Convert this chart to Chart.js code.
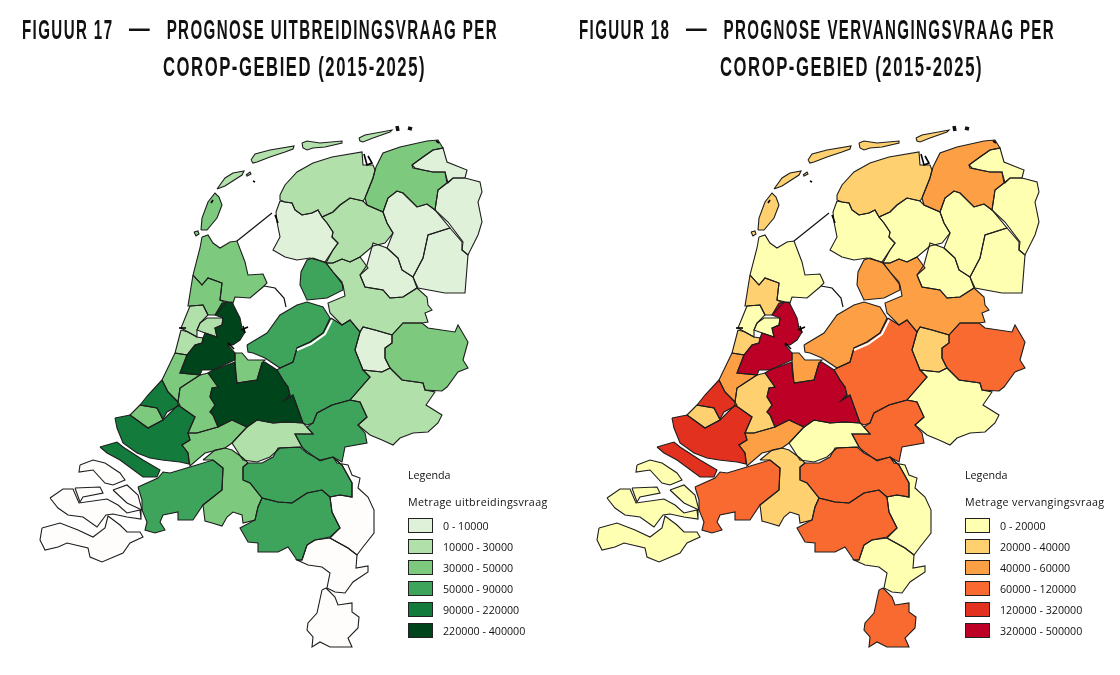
<!DOCTYPE html>
<html lang="nl">
<head>
<meta charset="utf-8">
<title>Prognose per COROP-gebied</title>
<script src="https://cdn.jsdelivr.net/npm/chart.js@4"></script>
<style>
    html, body { margin: 0; padding: 0; background: #fff; width: 1120px; height: 675px; overflow: hidden; }
    canvas { position: absolute; top: 0; }
    .title { position: absolute; font: 700 27px "Liberation Sans", sans-serif; color: #111; letter-spacing: 2.5px; white-space: pre; line-height: 30px; transform-origin: left top; }
    .title span { font-size: 37px; font-weight: 400; word-spacing: 15px; line-height: 20px; }
    .legendText { position: absolute; font: 10.7px "Open Sans", sans-serif; color: #111; white-space: pre; line-height: 14px; }
    .legendHead { letter-spacing: 0.34px; }
    .swatch { position: absolute; width: 23px; height: 13px; border: 1px solid #222; }
</style>
</head>
<body>
<canvas id="map17"></canvas>
<canvas id="map18"></canvas>

<script>
/* ------------------------------------------------------------
   DATA
------------------------------------------------------------ */
const titles17 = ["FIGUUR 17 — PROGNOSE UITBREIDINGSVRAAG PER", "COROP-GEBIED (2015-2025)"];
const titles18 = ["FIGUUR 18 — PROGNOSE VERVANGINGSVRAAG PER", "COROP-GEBIED (2015-2025)"];

const legendTitle17 = "Metrage uitbreidingsvraag";
const legendTitle18 = "Metrage vervangingsvraag";
const legendLabels17 = ["0 - 10000", "10000 - 30000", "30000 - 50000", "50000 - 90000", "90000 - 220000", "220000 - 400000"];
const legendLabels18 = ["0 - 20000", "20000 - 40000", "40000 - 60000", "60000 - 120000", "120000 - 320000", "320000 - 500000"];

const greens = ["#dff2d9", "#b1e0aa", "#7dc97e", "#3ea45c", "#137c3c", "#00441b"];
const reds = ["#ffffb2", "#fed06f", "#fda045", "#f96a30", "#e3311f", "#bd0026"];
const noData = "#fffdfc";

// map coordinates of each COROP area (x east, y south)
const texel = [[201,230],[202,218],[208,202],[215,193],[219,197],[222,205],[217,218],[207,230]];
const texelSmall = [[194,232],[198,231],[199,234],[196,236]];
const vlieland = [[217,189],[225,178],[233,173],[244,171],[242,175],[225,186]];
const vlielandSmall = [[246,175],[250,172],[251,174],[247,176]];
const terschelling = [[251,160],[255,154],[270,150],[294,146],[293,149],[285,152],[270,157],[257,162],[253,163]];
const ameland = [[302,143],[307,141],[320,143],[342,141],[342,143],[325,147],[313,148],[307,150],[303,148]];
const schiermonnikoog = [[359,138],[365,135],[392,130],[390,132],[373,138],[363,142],[360,141]];
const noordFriesland = [[280,195],[285,185],[297,172],[313,163],[332,157],[362,152],[363,165],[373,165],[375,170],[373,178],[365,198],[363,201],[350,198],[340,205],[333,212],[322,217],[318,210],[312,213],[302,215],[295,210],[292,203],[285,202],[280,200]];
const zuidwestFriesland = [[280,201],[285,202],[292,203],[295,210],[302,215],[312,213],[318,210],[322,217],[327,223],[333,232],[332,237],[338,243],[333,250],[325,262],[310,258],[297,260],[285,257],[273,250],[280,237],[277,222],[276,212]];
const zuidoostFriesland = [[322,217],[333,212],[340,205],[350,198],[363,201],[367,205],[383,212],[387,223],[393,233],[385,243],[373,246],[360,257],[350,262],[342,259],[333,263],[326,263],[333,250],[338,243],[332,237],[333,232],[327,223]];
const overigGroningen = [[365,198],[373,178],[376,167],[383,153],[400,147],[427,141],[438,140],[443,148],[433,150],[423,157],[412,165],[415,168],[423,170],[433,172],[445,172],[447,183],[438,190],[435,210],[427,204],[417,207],[403,193],[397,191],[388,198],[383,212],[367,205]];
const delfzijl = [[412,165],[423,157],[433,150],[443,148],[447,162],[467,170],[465,178],[453,178],[448,183],[445,172],[433,172],[423,170],[413,168]];
const oostGroningen = [[447,183],[453,178],[465,178],[480,182],[482,192],[478,202],[482,222],[478,235],[468,255],[462,250],[463,242],[448,222],[435,210],[438,190]];
const noordDrenthe = [[383,212],[388,198],[397,191],[403,193],[417,207],[427,204],[435,210],[450,228],[428,235],[423,258],[413,277],[402,270],[398,258],[387,248],[393,233],[387,223]];
const zuidoostDrenthe = [[450,228],[462,242],[462,250],[468,255],[465,293],[445,293],[418,288],[413,277],[423,258],[428,235]];
const zuidwestDrenthe = [[360,275],[367,265],[373,243],[387,248],[398,258],[402,270],[413,277],[417,288],[403,297],[390,298],[383,290],[365,287]];
const noordOverijssel = [[326,263],[333,263],[342,259],[350,262],[360,257],[368,268],[360,275],[365,287],[383,290],[390,298],[403,297],[417,288],[427,297],[428,305],[432,310],[425,313],[428,322],[422,323],[403,323],[392,335],[375,330],[363,327],[360,332],[350,320],[342,325],[330,313],[328,303],[345,296],[343,285],[333,272]];
const zuidwestOverijssel = [[363,327],[375,330],[392,335],[392,343],[385,348],[385,358],[390,368],[382,372],[363,370],[355,350],[360,332]];
const twente = [[392,335],[403,323],[422,323],[428,328],[455,332],[458,325],[468,342],[463,360],[468,368],[458,372],[447,387],[442,391],[425,390],[423,383],[402,380],[390,368],[385,358],[385,348],[392,343]];
const achterhoek = [[350,400],[370,377],[363,370],[382,372],[390,368],[402,380],[423,383],[425,390],[435,392],[426,405],[442,415],[438,423],[428,432],[413,433],[400,438],[393,445],[382,440],[370,435],[358,425],[367,417],[360,402]];
const veluwe = [[331,318],[342,325],[350,320],[360,332],[355,350],[363,370],[370,377],[350,400],[332,405],[317,413],[313,423],[307,425],[303,423],[293,395],[285,400],[290,395],[288,387],[283,380],[277,370],[280,368],[293,362],[297,348],[310,342],[323,333]];
const arnhemNijmegen = [[317,413],[332,405],[350,400],[360,402],[367,417],[358,425],[365,433],[367,443],[345,447],[342,462],[333,457],[320,461],[305,450],[302,447],[295,434],[313,434],[307,427],[313,423]];
const noordoostpolder = [[313,258],[326,263],[333,272],[342,282],[343,290],[327,298],[307,300],[300,285],[301,272],[307,260]];
const flevoland = [[247,345],[267,333],[280,315],[297,305],[307,302],[323,307],[330,318],[323,333],[310,342],[297,348],[293,362],[280,368],[265,358],[253,353],[248,352]];
const kopNoordHolland = [[202,237],[208,235],[213,243],[220,248],[230,242],[237,241],[245,262],[248,275],[263,274],[267,283],[263,287],[250,298],[235,297],[233,303],[220,300],[222,283],[208,278],[202,285],[193,275],[200,248]];
const alkmaar = [[193,275],[202,285],[208,278],[222,283],[220,300],[226,303],[215,315],[208,315],[203,305],[190,306],[188,306]];
const ijmond = [[190,306],[203,305],[208,315],[200,323],[197,330],[197,337],[188,332],[181,328]];
const zaanstreek = [[200,323],[207,318],[223,318],[222,325],[215,328],[217,337],[205,333],[197,330]];
const haarlem = [[181,330],[188,332],[197,337],[203,338],[202,343],[195,345],[187,355],[175,353]];
const grootAmsterdam = [[222,303],[232,302],[240,318],[242,328],[245,332],[240,340],[233,345],[228,345],[235,353],[235,360],[213,370],[202,370],[200,375],[180,373],[187,355],[195,345],[202,343],[203,338],[205,333],[217,337],[215,328],[222,325],[223,318],[215,315]];
const gooi = [[235,353],[242,353],[248,360],[265,360],[262,363],[257,380],[237,383],[235,370],[235,362]];
const utrecht = [[235,362],[237,383],[257,380],[262,363],[265,362],[277,370],[283,380],[288,387],[290,395],[285,400],[293,395],[303,423],[287,422],[273,423],[257,420],[247,427],[232,420],[218,427],[213,415],[210,412],[215,405],[210,397],[212,388],[218,387],[208,373],[213,370]];
const leiden = [[175,353],[187,355],[180,373],[200,375],[180,388],[178,402],[168,392],[162,380]];
const denHaag = [[162,380],[168,392],[178,402],[180,405],[167,412],[163,419],[157,408],[140,405],[148,395]];
const delftWestland = [[140,405],[157,408],[162,418],[163,420],[148,428],[130,415]];
const oostZuidHolland = [[200,375],[208,373],[218,387],[212,388],[210,397],[215,405],[210,412],[213,415],[218,427],[197,433],[188,433],[195,417],[178,405],[178,402],[180,388]];
const grootRijnmond = [[115,418],[130,415],[148,428],[163,420],[178,405],[195,417],[188,433],[190,440],[182,445],[188,453],[189,464],[180,462],[162,460],[150,458],[137,453],[123,443],[117,428]];
const goeree = [[100,447],[117,442],[123,447],[143,460],[160,470],[157,477],[143,477],[120,460],[107,453]];
const zuidoostZuidHolland = [[197,433],[218,427],[232,420],[247,427],[232,443],[225,448],[205,453],[190,466],[188,453],[182,445],[190,440],[188,433]];
const rivierenland = [[247,427],[257,420],[273,423],[287,422],[303,423],[313,434],[295,434],[302,447],[280,448],[270,457],[257,462],[243,460],[232,443]];
const westBrabant = [[138,487],[158,478],[163,472],[170,473],[190,467],[213,460],[223,468],[222,490],[203,505],[193,520],[178,520],[178,512],[163,515],[160,522],[165,530],[155,533],[145,530],[147,522],[142,510],[142,500]];
const middenBrabant = [[203,460],[215,450],[225,448],[232,450],[243,458],[248,463],[243,467],[243,480],[250,483],[262,498],[258,507],[255,520],[243,523],[242,515],[233,512],[227,517],[222,526],[212,523],[205,521],[203,505],[222,490],[223,468],[213,460]];
const noordoostBrabant = [[243,467],[248,463],[262,463],[273,457],[278,448],[300,447],[307,453],[320,460],[333,457],[342,465],[352,483],[352,497],[340,495],[330,497],[322,490],[307,493],[292,503],[278,502],[262,498],[250,483],[243,480]];
const zuidoostBrabant = [[262,498],[278,502],[292,503],[307,493],[322,490],[330,497],[332,512],[340,528],[330,537],[315,540],[307,545],[302,560],[297,560],[288,547],[278,552],[258,552],[258,543],[248,542],[240,528],[255,520],[258,507]];
const noordLimburg = [[333,457],[337,463],[348,465],[352,475],[360,478],[358,488],[368,497],[374,510],[374,533],[363,547],[357,555],[348,548],[330,538],[340,528],[332,512],[330,497],[340,495],[352,497],[352,483],[342,465]];
const middenLimburg = [[307,545],[315,540],[330,538],[348,548],[357,555],[356,568],[368,566],[368,572],[353,582],[345,593],[335,592],[327,588],[330,573],[322,567],[308,565],[297,560],[302,560]];
const zuidLimburg = [[326,588],[335,597],[338,605],[352,603],[352,612],[359,617],[358,628],[348,638],[352,647],[330,647],[320,642],[312,647],[313,637],[307,630],[308,623],[317,613],[322,590]];
const zeeuwsVlaanderen = [[42,528],[60,523],[78,530],[93,537],[105,528],[108,516],[120,525],[127,532],[140,532],[143,537],[130,543],[123,553],[102,562],[90,557],[88,548],[67,543],[58,547],[45,550],[40,540]];
const walcheren = [[50,498],[63,489],[73,489],[79,503],[107,499],[118,505],[127,513],[140,510],[141,519],[127,517],[113,514],[106,515],[97,527],[83,517],[68,515],[58,508]];
const noordBeveland = [[75,488],[100,487],[103,493],[83,497],[80,502]];
const schouwen = [[80,465],[93,460],[105,463],[120,473],[125,480],[113,485],[105,483],[93,470],[79,472]];
const tholen = [[113,490],[127,485],[138,495],[142,510],[127,503]];

const regions = [texel, texelSmall, vlieland, vlielandSmall, terschelling, ameland, schiermonnikoog,
    noordFriesland, zuidwestFriesland, zuidoostFriesland, overigGroningen, delfzijl, oostGroningen,
    noordDrenthe, zuidoostDrenthe, zuidwestDrenthe, noordOverijssel, zuidwestOverijssel, twente, achterhoek,
    veluwe, arnhemNijmegen, noordoostpolder, flevoland, kopNoordHolland, alkmaar, ijmond, zaanstreek, haarlem,
    grootAmsterdam, gooi, utrecht, leiden, denHaag, delftWestland, oostZuidHolland, grootRijnmond, goeree,
    zuidoostZuidHolland, rivierenland, westBrabant, middenBrabant, noordoostBrabant, zuidoostBrabant,
    noordLimburg, middenLimburg, zuidLimburg, zeeuwsVlaanderen, walcheren, noordBeveland, schouwen, tholen];

// legend class per region, same order as regions (-1 = geen waarde)
const classes17 = [2, 2, 1, 1, 1, 1, 1,
    1, 0, 1, 2, 0, 0,
    0, 0, 0, 1, 0, 2, 1,
    3, 3, 3, 3, 2, 2, 1, 1, 1,
    5, 2, 5, 2, 4, 2, 2, 4, 4,
    2, 1, 3, 2, 3, 3,
    -1, -1, -1, -1, -1, -1, -1, -1];
const classes18 = [1, 1, 1, 1, 1, 1, 1,
    1, 0, 0, 2, 0, 0,
    0, 0, 0, 2, 1, 3, 0,
    3, 3, 2, 2, 0, 1, 0, 0, 1,
    5, 2, 5, 2, 4, 1, 1, 4, 4,
    2, 0, 3, 1, 3, 3,
    0, 0, 3, 0, 0, 0, 0, 0];

// dikes and little black bits along the coast, not part of any area
const afsluitdijk = [[237,241],[272,213]];
const houtribdijk = [[264,286],[275,288],[284,298],[286,307]];
const blackBits = [[[179,328],[186,328]], [[241,330],[248,327]], [[243,326],[245,333]], [[228,343],[234,349]],
    [[275,215],[278,223]], [[364,154],[367,165],[372,163],[368,156]], [[436,141],[439,143]], [[253,181],[255,182]], [[213,200],[211,203]]];
const rottumBits = [[[397,126],[398,131]], [[408,128],[412,129]]];
const randmeer = [[297,350],[311,344],[325,334],[332,320]];


/* ------------------------------------------------------------
   FILL THE CLOSED SHAPES (chart.js only fills down to an axis)
------------------------------------------------------------ */
const polygonFill = {
    id: "polygonFill",
    beforeDatasetsDraw(chart) {
        const ctx = chart.ctx;
        chart.data.datasets.forEach((ds, i) => {
            if (!ds.polygonColor) return;
            const pts = chart.getDatasetMeta(i).data;
            ctx.beginPath();
            pts.forEach((p, k) => k ? ctx.lineTo(p.x, p.y) : ctx.moveTo(p.x, p.y));
            ctx.closePath();
            ctx.fillStyle = ds.polygonColor;
            ctx.fill();
        });
    }
};

function toPoints(shape) {
    return shape.map(p => ({ x: p[0], y: p[1] }));
}

function lineSet(shape, color, width) {
    return { data: toPoints(shape), showLine: true, borderColor: color, borderWidth: width, pointRadius: 0, tension: 0 };
}


/* ------------------------------------------------------------
   DRAW ONE MAP
------------------------------------------------------------ */
function drawMap(canvasID, left, width, classes, colors) {
    const canvas = document.getElementById(canvasID);
    canvas.style.left = left + "px";

    const datasets = [];
    blackBits.forEach(b => datasets.push(lineSet(b, "#000", 1.6)));
    rottumBits.forEach(b => datasets.push(lineSet(b, "#111", 3.5)));
    datasets.push(lineSet(afsluitdijk, "#111", 1.2));
    datasets.push(lineSet(houtribdijk, "#111", 1.2));
    datasets.push(lineSet(randmeer, "#fff", 2));

    regions.forEach((shape, i) => {
        const ds = lineSet(shape.concat([shape[0]]), "#1e1e1e", 1.1);
        ds.polygonColor = classes[i] < 0 ? noData : colors[classes[i]];
        datasets.push(ds);
    });

    new Chart(canvas, {
        type: "scatter",
        data: { datasets },
        options: {
            responsive: false,
            animation: false,
            layout: { padding: 0 },
            plugins: { legend: { display: false }, tooltip: { enabled: false } },
            scales: {
                x: { type: "linear", display: false, min: 0, max: width },
                y: { type: "linear", display: false, min: 0, max: 675, reverse: true }
            }
        },
        plugins: [polygonFill]
    });
}


/* ------------------------------------------------------------
   TITLES AND LEGEND AS PAGE TEXT
------------------------------------------------------------ */
function addText(cls, text, x, y) {
    const el = document.createElement("div");
    el.className = cls;
    el.textContent = text;
    el.style.left = x + "px";
    el.style.top = y + "px";
    document.body.appendChild(el);
    return el;
}

// no condensed font installed, so squeeze the line to the width it has in the reference
function addTitleLine(text, x, y, targetWidth) {
    const el = addText("title", text, x, y);
    const parts = text.split(" — ");
    if (parts.length === 2) {
        // the dash is longer and thinner than the rest of the line
        el.textContent = parts[0];
        const dash = document.createElement("span");
        dash.textContent = " — ";
        el.appendChild(dash);
        el.appendChild(document.createTextNode(parts[1]));
    }
    el.style.transform = "scaleX(" + (targetWidth / el.offsetWidth) + ")";
}

function drawHeader(lines, x1, x2) {
    addTitleLine(lines[0], x1, 15, 476);
    addTitleLine(lines[1], x2, 52, 263);
}

function drawLegend(x, legendTitle, labels, colors) {
    addText("legendText", "Legenda", x, 468);
    addText("legendText legendHead", legendTitle, x, 495);
    const tops = [518, 539, 560, 581, 602, 623];
    labels.forEach((label, i) => {
        const box = document.createElement("div");
        box.className = "swatch";
        box.style.left = x + "px";
        box.style.top = tops[i] + "px";
        box.style.background = colors[i];
        document.body.appendChild(box);
        addText("legendText", label, x + 35, tops[i] + 1);
    });
}

// same outline for both maps, the right canvas starts 557px further on
const canvas17 = document.getElementById("map17");
const canvas18 = document.getElementById("map18");
canvas17.width = 557; canvas17.height = 675;
canvas18.width = 557; canvas18.height = 675;

drawMap("map17", 0, 557, classes17, greens);
drawMap("map18", 557, 557, classes18, reds);

drawHeader(titles17, 22, 163);
drawHeader(titles18, 579, 720);
drawLegend(408, legendTitle17, legendLabels17, greens);
drawLegend(965, legendTitle18, legendLabels18, reds);
</script>
</body>
</html>
